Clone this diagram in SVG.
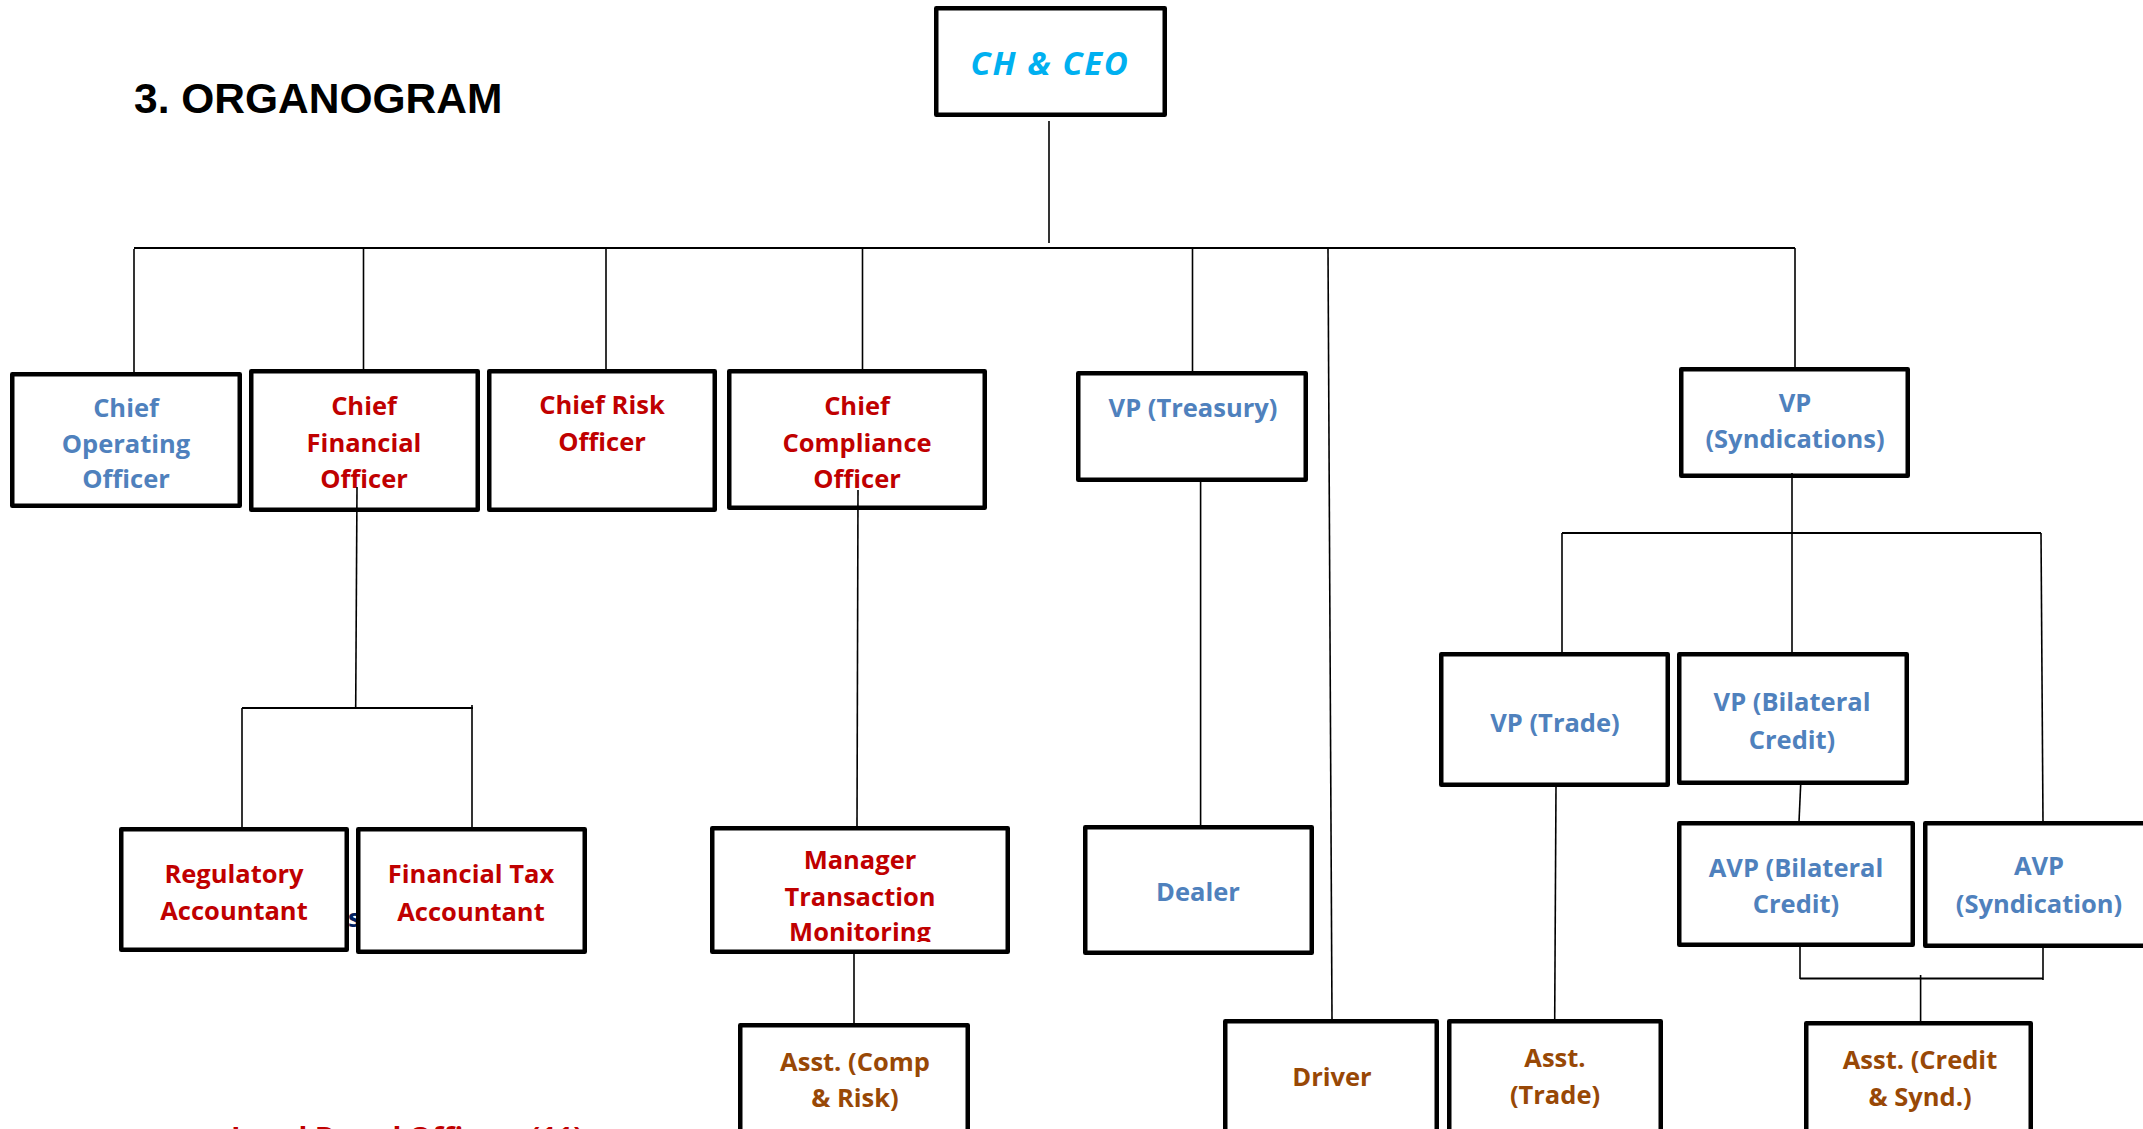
<svg xmlns="http://www.w3.org/2000/svg" width="2143" height="1129" viewBox="0 0 2143 1129">
<style>
.box{fill:#fff;stroke:#000;stroke-width:4.5;stroke-linejoin:round}
.t{font-family:"Open Sans","DejaVu Sans",sans-serif;font-weight:700;font-size:25.5px;text-anchor:middle}
.blue{fill:#4F81BD}
.red{fill:#C00000}
.brown{fill:#984806}
.ln{stroke:#000;stroke-width:1.6;fill:none}
.bus{stroke:#000;stroke-width:2.2;fill:none}
</style>
<defs>
<clipPath id="clipMTM"><rect x="712" y="828" width="296" height="114"/></clipPath>
</defs>
<rect width="2143" height="1129" fill="#fff"/>
<text x="134" y="113" font-family="Liberation Sans, Arial, sans-serif" font-weight="bold" font-size="42.5" fill="#000">3. ORGANOGRAM</text>
<text x="348" y="927" class="t" style="text-anchor:start;fill:#002060">s</text>
<text x="231" y="1148" class="t red" style="text-anchor:start;font-size:29px">Legal Board Officers (11)</text>

<g id="ceo"><rect class="box" x="936.25" y="8.25" width="228.5" height="106.5"/><text x="1050" y="75" font-family="Open Sans, DejaVu Sans, sans-serif" font-weight="bold" font-style="italic" font-size="33" letter-spacing="1.6" fill="#00B0F0" text-anchor="middle">CH &amp; CEO</text></g>

<g id="coo"><rect class="box" x="12.25" y="374.25" width="227.5" height="131.5"/><text class="t blue" x="126"><tspan x="126" y="417">Chief</tspan><tspan x="126" y="453">Operating</tspan><tspan x="126" y="488">Officer</tspan></text></g>
<g id="cfo"><rect class="box" x="251.25" y="371.25" width="226.5" height="138.5"/><text class="t red"><tspan x="364" y="415">Chief</tspan><tspan x="364" y="452">Financial</tspan><tspan x="364" y="488">Officer</tspan></text></g>
<g id="cro"><rect class="box" x="489.25" y="371.25" width="225.5" height="138.5"/><text class="t red"><tspan x="602" y="414">Chief Risk</tspan><tspan x="602" y="451">Officer</tspan></text></g>
<g id="cco"><rect class="box" x="729.25" y="371.25" width="255.5" height="136.5"/><text class="t red"><tspan x="857" y="415">Chief</tspan><tspan x="857" y="452">Compliance</tspan><tspan x="857" y="488">Officer</tspan></text></g>
<g id="vp-treasury"><rect class="box" x="1078.25" y="373.25" width="227.5" height="106.5"/><text class="t blue" x="1193" y="417">VP (Treasury)</text></g>
<g id="vp-syndications"><rect class="box" x="1681.25" y="369.25" width="226.5" height="106.5"/><text class="t blue"><tspan x="1795" y="412">VP</tspan><tspan x="1795" y="448">(Syndications)</tspan></text></g>

<g id="regulatory-accountant"><rect class="box" x="121.25" y="829.25" width="225.5" height="120.5"/><text class="t red"><tspan x="234" y="883">Regulatory</tspan><tspan x="234" y="920">Accountant</tspan></text></g>
<g id="financial-tax-accountant"><rect class="box" x="358.25" y="829.25" width="226.5" height="122.5"/><text class="t red"><tspan x="471" y="883">Financial Tax</tspan><tspan x="471" y="921">Accountant</tspan></text></g>
<g id="manager-tm"><rect class="box" x="712.25" y="828.25" width="295.5" height="123.5"/><text class="t red" clip-path="url(#clipMTM)"><tspan x="860" y="869">Manager</tspan><tspan x="860" y="906">Transaction</tspan><tspan x="860" y="941">Monitoring</tspan></text></g>
<g id="asst-comp-risk"><rect class="box" x="740.25" y="1025.25" width="227.5" height="120"/><text class="t brown"><tspan x="855" y="1071">Asst. (Comp</tspan><tspan x="855" y="1107">&amp; Risk)</tspan></text></g>
<g id="dealer"><rect class="box" x="1085.25" y="827.25" width="226.5" height="125.5"/><text class="t blue" x="1198" y="901">Dealer</text></g>
<g id="vp-trade"><rect class="box" x="1441.25" y="654.25" width="226.5" height="130.5"/><text class="t blue" x="1555" y="732">VP (Trade)</text></g>
<g id="vp-bilateral"><rect class="box" x="1679.25" y="654.25" width="227.5" height="128.5"/><text class="t blue"><tspan x="1792" y="711">VP (Bilateral</tspan><tspan x="1792" y="749">Credit)</tspan></text></g>
<g id="avp-bilateral"><rect class="box" x="1679.25" y="823.25" width="233.5" height="121.5"/><text class="t blue"><tspan x="1796" y="877">AVP (Bilateral</tspan><tspan x="1796" y="913">Credit)</tspan></text></g>
<g id="avp-syndication"><rect class="box" x="1925.25" y="823.25" width="240" height="122.5"/><text class="t blue"><tspan x="2039" y="875">AVP</tspan><tspan x="2039" y="913">(Syndication)</tspan></text></g>
<g id="driver"><rect class="box" x="1225.25" y="1021.25" width="211.5" height="120"/><text class="t brown" x="1332" y="1086">Driver</text></g>
<g id="asst-trade"><rect class="box" x="1449.25" y="1021.25" width="211.5" height="120"/><text class="t brown"><tspan x="1555" y="1067">Asst.</tspan><tspan x="1555" y="1104">(Trade)</tspan></text></g>
<g id="asst-credit-synd"><rect class="box" x="1806.25" y="1023.25" width="224.5" height="120"/><text class="t brown"><tspan x="1920" y="1069">Asst. (Credit</tspan><tspan x="1920" y="1106">&amp; Synd.)</tspan></text></g>

<g id="connectors">
<line class="ln" x1="1049" y1="121" x2="1049" y2="243"/>
<line class="bus" x1="134" y1="248" x2="1795" y2="248"/>
<line class="ln" x1="134" y1="249" x2="134" y2="373"/>
<line class="ln" x1="363.5" y1="248" x2="363.5" y2="370"/>
<line class="ln" x1="606" y1="248" x2="606" y2="370"/>
<line class="ln" x1="862.5" y1="248" x2="862.5" y2="370"/>
<line class="ln" x1="1192.5" y1="247" x2="1192.5" y2="372"/>
<line class="ln" x1="1328" y1="249" x2="1332" y2="1020"/>
<line class="ln" x1="1795" y1="248" x2="1795" y2="368"/>
<line class="ln" x1="357" y1="487" x2="355.7" y2="708"/>
<line class="bus" x1="242" y1="708" x2="473" y2="708"/>
<line class="ln" x1="242" y1="708" x2="242" y2="828"/>
<line class="ln" x1="472" y1="705" x2="472" y2="828"/>
<line class="ln" x1="858" y1="490" x2="857" y2="827"/>
<line class="ln" x1="854" y1="953" x2="854" y2="1024"/>
<line class="ln" x1="1200.6" y1="481" x2="1200.6" y2="826"/>
<line class="ln" x1="1792" y1="473" x2="1792" y2="653"/>
<line class="bus" x1="1562" y1="533" x2="2041" y2="533"/>
<line class="ln" x1="1562" y1="533" x2="1562" y2="653"/>
<line class="ln" x1="2041" y1="533" x2="2043" y2="822"/>
<line class="ln" x1="1800.7" y1="784" x2="1799" y2="822"/>
<line class="ln" x1="1800" y1="946" x2="1800" y2="979"/>
<line class="ln" x1="2043" y1="947" x2="2043" y2="980"/>
<line class="bus" x1="1800" y1="978.5" x2="2043" y2="978.5"/>
<line class="ln" x1="1920.6" y1="975" x2="1920.6" y2="1024"/>
<line class="ln" x1="1556" y1="786" x2="1554.7" y2="1020"/>
</g>
</svg>
